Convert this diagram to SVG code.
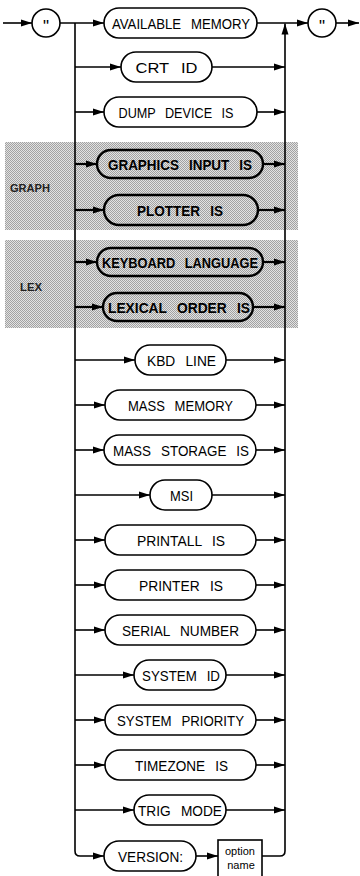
<svg xmlns="http://www.w3.org/2000/svg" width="360" height="876" viewBox="0 0 360 876">
<defs>
<style>
.ln{fill:none;stroke:#000;stroke-width:1.6}
.lnb{fill:none;stroke:#000;stroke-width:2.2}
.bx{fill:#fff;stroke:#000;stroke-width:1.6}
.bxs{fill:none;stroke:#000;stroke-width:2.4}
.t{font-family:"Liberation Sans",Arial,sans-serif;font-size:15px;word-spacing:7px;fill:#000;text-anchor:middle}
.tb{font-family:"Liberation Sans",Arial,sans-serif;font-size:15px;word-spacing:7px;font-weight:bold;fill:#000;text-anchor:middle}
.q{font-family:"Liberation Sans",Arial,sans-serif;font-size:17px;fill:#000;text-anchor:middle}
.lab{font-family:"Liberation Sans",Arial,sans-serif;font-size:10px;font-weight:bold;fill:#222}
.sm{font-family:"Liberation Sans",Arial,sans-serif;font-size:11px;fill:#000;text-anchor:middle}
</style>
<marker id="a" markerWidth="11" markerHeight="8" refX="11" refY="4" orient="auto" markerUnits="userSpaceOnUse"><path d="M0,0.5 L11,4 L0,7.5 z" fill="#000"/></marker>
<pattern id="dots" width="2" height="2" patternUnits="userSpaceOnUse"><rect width="2" height="2" fill="#e2e2e2"/><rect width="1" height="1" fill="#a2a2a2"/><rect x="1" y="1" width="1" height="1" fill="#a2a2a2"/></pattern>
</defs>
<rect width="360" height="876" fill="#fff"/>
<g id="shade">
<rect x="5" y="142" width="293" height="88" fill="url(#dots)"/>
<rect x="5" y="240" width="293" height="88" fill="url(#dots)"/>
<text class="lab" x="10" y="192" textLength="40" lengthAdjust="spacingAndGlyphs">GRAPH</text>
<text class="lab" x="20" y="291" textLength="22" lengthAdjust="spacingAndGlyphs">LEX</text>
</g>
<g id="connectors">
<path class="ln" d="M3,23 H32" marker-end="url(#a)"/>
<path class="ln" d="M60,23 H104" marker-end="url(#a)"/>
<path class="ln" d="M257,23 H308" marker-end="url(#a)"/>
<path class="ln" d="M336,23 H359" marker-end="url(#a)"/>
<path class="ln" d="M75,23 V851 Q75,856 80,856 H104" marker-end="url(#a)"/>
<path class="ln" d="M262,856 H280 Q285,856 285,851 V23.5" marker-end="url(#a)"/>
<path class="ln" d="M196,856 H218" marker-end="url(#a)"/>
<path class="ln" d="M75,67 H121" marker-end="url(#a)"/><path class="ln" d="M212,67 H285" marker-end="url(#a)"/>
<path class="ln" d="M75,112 H104" marker-end="url(#a)"/><path class="ln" d="M257,112 H285" marker-end="url(#a)"/>
<path class="lnb" d="M75,164 H97" marker-end="url(#a)"/><path class="lnb" d="M263,164 H285" marker-end="url(#a)"/>
<path class="lnb" d="M75,210 H104" marker-end="url(#a)"/><path class="lnb" d="M258,210 H285" marker-end="url(#a)"/>
<path class="lnb" d="M75,262 H97" marker-end="url(#a)"/><path class="lnb" d="M263,262 H285" marker-end="url(#a)"/>
<path class="lnb" d="M75,307 H103" marker-end="url(#a)"/><path class="lnb" d="M253,307 H285" marker-end="url(#a)"/>
<path class="ln" d="M75,360 H135" marker-end="url(#a)"/><path class="ln" d="M226,360 H285" marker-end="url(#a)"/>
<path class="ln" d="M75,405 H105" marker-end="url(#a)"/><path class="ln" d="M256,405 H285" marker-end="url(#a)"/>
<path class="ln" d="M75,450 H104" marker-end="url(#a)"/><path class="ln" d="M256,450 H285" marker-end="url(#a)"/>
<path class="ln" d="M75,495 H150" marker-end="url(#a)"/><path class="ln" d="M212,495 H285" marker-end="url(#a)"/>
<path class="ln" d="M75,540 H105" marker-end="url(#a)"/><path class="ln" d="M256,540 H285" marker-end="url(#a)"/>
<path class="ln" d="M75,585 H105" marker-end="url(#a)"/><path class="ln" d="M256,585 H285" marker-end="url(#a)"/>
<path class="ln" d="M75,630 H105" marker-end="url(#a)"/><path class="ln" d="M256,630 H285" marker-end="url(#a)"/>
<path class="ln" d="M75,675 H134" marker-end="url(#a)"/><path class="ln" d="M226,675 H285" marker-end="url(#a)"/>
<path class="ln" d="M75,720 H105" marker-end="url(#a)"/><path class="ln" d="M256,720 H285" marker-end="url(#a)"/>
<path class="ln" d="M75,765 H105" marker-end="url(#a)"/><path class="ln" d="M256,765 H285" marker-end="url(#a)"/>
<path class="ln" d="M75,810 H134" marker-end="url(#a)"/><path class="ln" d="M226,810 H285" marker-end="url(#a)"/>
</g>
<g id="q1"><circle class="bx" cx="46" cy="23" r="14"/><text class="q" x="46" y="32">"</text></g>
<g id="q2"><circle class="bx" cx="322" cy="23" r="14"/><text class="q" x="322" y="32">"</text></g>
<g id="n1"><rect class="bx" x="104" y="8" width="153" height="30" rx="15"/><text class="t" x="181" y="28.5" textLength="138" lengthAdjust="spacingAndGlyphs">AVAILABLE MEMORY</text></g>
<g id="n2"><rect class="bx" x="121" y="52" width="91" height="30" rx="15"/><text class="t" x="166.5" y="72.5" textLength="62" lengthAdjust="spacingAndGlyphs">CRT ID</text></g>
<g id="n3"><rect class="bx" x="104" y="97" width="153" height="30" rx="15"/><text class="t" x="176" y="117.5" textLength="115" lengthAdjust="spacingAndGlyphs">DUMP DEVICE IS</text></g>
<g id="n4"><rect class="bxs" x="97" y="150" width="166" height="28" rx="14"/><text class="tb" x="180" y="169.5" textLength="144" lengthAdjust="spacingAndGlyphs">GRAPHICS INPUT IS</text></g>
<g id="n5"><rect class="bxs" x="104" y="195" width="154" height="30" rx="15"/><text class="tb" x="180" y="215.5" textLength="86" lengthAdjust="spacingAndGlyphs">PLOTTER IS</text></g>
<g id="n6"><rect class="bxs" x="97" y="248" width="166" height="28" rx="14"/><text class="tb" x="180" y="267.5" textLength="156" lengthAdjust="spacingAndGlyphs">KEYBOARD LANGUAGE</text></g>
<g id="n7"><rect class="bxs" x="103" y="293" width="150" height="28" rx="14"/><text class="tb" x="179" y="312.5" textLength="142" lengthAdjust="spacingAndGlyphs">LEXICAL ORDER IS</text></g>
<g id="n8"><rect class="bx" x="135" y="345" width="91" height="30" rx="15"/><text class="t" x="181.5" y="365.5" textLength="69" lengthAdjust="spacingAndGlyphs">KBD LINE</text></g>
<g id="n9"><rect class="bx" x="105" y="390" width="151" height="30" rx="15"/><text class="t" x="180.5" y="410.5" textLength="105" lengthAdjust="spacingAndGlyphs">MASS MEMORY</text></g>
<g id="n10"><rect class="bx" x="104" y="435" width="152" height="30" rx="15"/><text class="t" x="181" y="455.5" textLength="136" lengthAdjust="spacingAndGlyphs">MASS STORAGE IS</text></g>
<g id="n11"><rect class="bx" x="150" y="480" width="62" height="30" rx="15"/><text class="t" x="181.5" y="500.5" textLength="23" lengthAdjust="spacingAndGlyphs">MSI</text></g>
<g id="n12"><rect class="bx" x="105" y="525" width="151" height="30" rx="15"/><text class="t" x="181" y="545.5" textLength="88" lengthAdjust="spacingAndGlyphs">PRINTALL IS</text></g>
<g id="n13"><rect class="bx" x="105" y="570" width="151" height="30" rx="15"/><text class="t" x="181" y="590.5" textLength="84" lengthAdjust="spacingAndGlyphs">PRINTER IS</text></g>
<g id="n14"><rect class="bx" x="105" y="615" width="151" height="30" rx="15"/><text class="t" x="180.5" y="635.5" textLength="117" lengthAdjust="spacingAndGlyphs">SERIAL NUMBER</text></g>
<g id="n15"><rect class="bx" x="134" y="660" width="92" height="30" rx="15"/><text class="t" x="181" y="680.5" textLength="78" lengthAdjust="spacingAndGlyphs">SYSTEM ID</text></g>
<g id="n16"><rect class="bx" x="105" y="705" width="151" height="30" rx="15"/><text class="t" x="180.5" y="725.5" textLength="127" lengthAdjust="spacingAndGlyphs">SYSTEM PRIORITY</text></g>
<g id="n17"><rect class="bx" x="105" y="750" width="151" height="30" rx="15"/><text class="t" x="181.5" y="770.5" textLength="93" lengthAdjust="spacingAndGlyphs">TIMEZONE IS</text></g>
<g id="n18"><rect class="bx" x="134" y="795" width="92" height="30" rx="15"/><text class="t" x="180" y="815.5" textLength="84" lengthAdjust="spacingAndGlyphs">TRIG MODE</text></g>
<g id="n19"><rect class="bx" x="104" y="841" width="92" height="30" rx="15"/><text class="t" x="150.5" y="861.5" textLength="65" lengthAdjust="spacingAndGlyphs">VERSION:</text></g>
<g id="n20"><rect class="bx" x="218" y="840" width="44" height="40"/><text class="sm" x="240" y="855">option</text><text class="sm" x="241" y="869">name</text></g>
</svg>
